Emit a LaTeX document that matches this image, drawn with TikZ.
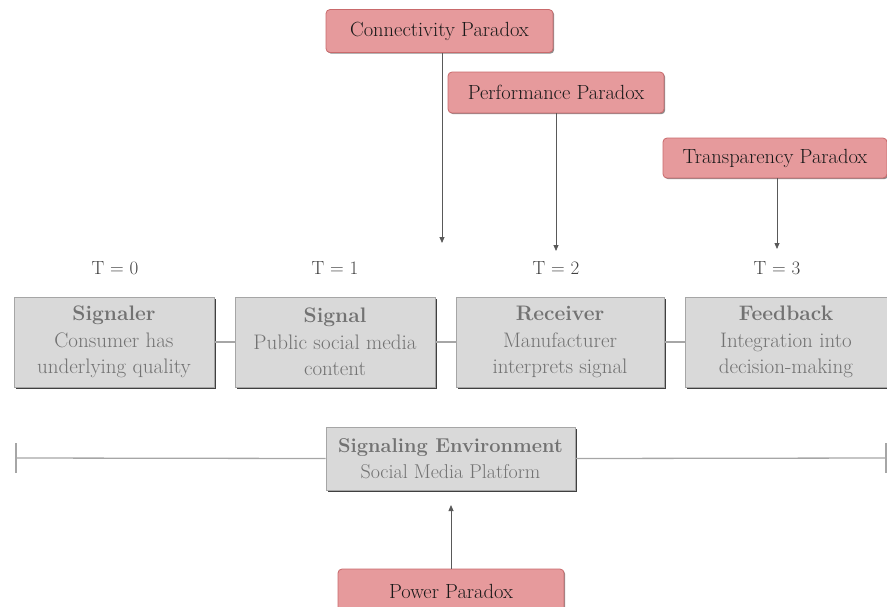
\documentclass[tikz,border=0pt]{standalone}
\usetikzlibrary{shadows,arrows.meta}
\definecolor{gfill}{HTML}{D9D9D9}
\definecolor{gline}{HTML}{A6A6A6}
\definecolor{gtext}{HTML}{727272}
\definecolor{rfill}{HTML}{E69A9C}
\definecolor{rline}{HTML}{C96A6C}
\definecolor{conn}{HTML}{A6A6A6}
\tikzset{
  gbox/.style={draw=gline, fill=gfill, line width=0.8pt, inner sep=0pt, align=center,
    text=gtext, font=\fontsize{21}{26.5}\selectfont,
    general shadow={shadow xshift=1.6pt, shadow yshift=-1.6pt, fill=black!75}},
  rbox/.style={draw=rline, fill=rfill, line width=0.8pt, rounded corners=4pt, inner sep=0pt,
    align=center, text=black!90, font=\fontsize{20.5}{24}\selectfont,
    general shadow={shadow xshift=1.2pt, shadow yshift=-1.2pt, fill=black!45, rounded corners=4pt}},
  tlabel/.style={text=black!75, font=\fontsize{19}{22}\selectfont, inner sep=0pt},
  link/.style={draw=conn, line width=1.3pt},
  arr/.style={draw=black!65, line width=0.8pt, -{Triangle[length=6pt,width=5pt]}}
}
\begin{document}
\begin{tikzpicture}[x=1pt,y=-1pt]
\useasboundingbox (0,0) rectangle (887,606);
\begin{scope}
\clip (0,0) rectangle (887,606);
% timeline boxes
\node[gbox, minimum width=200, minimum height=90] (sgnr) at (114,342) {\textbf{Signaler}\\Consumer has\\underlying quality};
\node[gbox, minimum width=200, minimum height=90] (sig) at (335,342) {\textbf{Signal}\\Public social media\\content};
\node[gbox, minimum width=208, minimum height=90] (rec) at (560,342) {\textbf{Receiver}\\Manufacturer\\interprets signal};
\node[gbox, minimum width=202, minimum height=90] (fb) at (786,342) {\textbf{Feedback}\\Integration into\\decision-making};
% T labels
\node[tlabel] (t0) at (115,268) {T = 0};
\node[tlabel] (t1) at (335,268) {T = 1};
\node[tlabel] (t2) at (556,268) {T = 2};
\node[tlabel] (t3) at (777,268) {T = 3};
% links
\draw[link] (sgnr.east) -- (sig.west);
\draw[link] (sig.east) -- (rec.west);
\draw[link] (rec.east) -- (fb.west);
% environment
\node[gbox, minimum width=249, minimum height=63, font=\fontsize{20}{26}\selectfont] (env) at (450.5,458.5) {\textbf{Signaling Environment}\\Social Media Platform};
\coordinate (lend) at (16,458);
\coordinate (rend) at (886,458);
\draw[link] (lend) -- (env.west);
\draw[link] (env.east) -- (rend);
\draw[link] ([yshift=-15]lend) -- ([yshift=15]lend);
\draw[link] ([yshift=-15]rend) -- ([yshift=15]rend);
% paradoxes
\node[rbox, minimum width=227, minimum height=43] (cp) at (439.5,31) {Connectivity Paradox};
\node[rbox, minimum width=216, minimum height=41] (pp) at (556,92.5) {Performance Paradox};
\node[rbox, minimum width=224, minimum height=40] (tp) at (775,158) {Transparency Paradox};
\node[rbox, minimum width=226, minimum height=44] (pw) at (451,591) {Power Paradox};
% arrows
\coordinate (cpt) at (442,243);
\coordinate (ppt) at (556,251);
\coordinate (tpt) at (777,249);
\coordinate (pwt) at (451,505);
\draw[arr] (cp.south -| cpt) -- (cpt);
\draw[arr] (pp.south -| ppt) -- (ppt);
\draw[arr] (tp.south -| tpt) -- (tpt);
\draw[arr] (pw.north -| pwt) -- (pwt);
\end{scope}
\end{tikzpicture}
\end{document}
